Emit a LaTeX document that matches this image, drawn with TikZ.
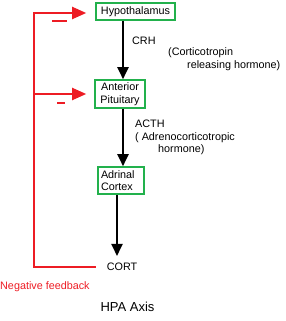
\documentclass[tikz,border=0pt]{standalone}
\usepackage{fontspec}
\setmainfont{Liberation Sans}
\usepackage{xcolor}
\usetikzlibrary{positioning,arrows.meta,calc}
\definecolor{paintgreen}{RGB}{34,177,76}
\definecolor{paintred}{RGB}{237,28,36}

\begin{document}
\begin{tikzpicture}[
  x=1pt, y=-1pt,
  font=\fontsize{10.8}{12.5}\selectfont,
  gland/.style={rectangle, draw=paintgreen, line width=1.6pt, inner sep=1pt},
  hormone/.style={draw=black, line width=2pt, -{Triangle[length=12pt,width=11pt]}},
  fbline/.style={draw=paintred, line width=2pt},
  fbarrow/.style={fbline, -{Triangle[length=14pt,width=12pt]}},
  label/.style={anchor=west, inner sep=0pt, align=left},
]
\useasboundingbox (0,0) rectangle (286,321);

% glands
\node[gland, minimum width=79pt, minimum height=17pt] (hyp) at (135.5,11.5) {Hypothalamus};
\node[gland, minimum width=50pt, minimum height=28pt, align=center] (pit) at (120,94) {Anterior\\Pituitary};
\node[gland, minimum width=46pt, minimum height=27pt, text width=40pt, align=left] (adr) at (121,180.5) {Adrinal\\Cortex};
\node[inner sep=0pt] (cort) at (122,267) {CORT};

% hormone cascade
\draw[hormone] ([xshift=-12.5pt]hyp.south) -- ([xshift=-12.5pt]hyp.south |- pit.north);
\draw[hormone] ([xshift=3pt]pit.south) -- ([xshift=3pt]pit.south |- adr.north);
\draw[hormone] ([xshift=-4pt]adr.south) -- ([xshift=-4pt,yshift=7pt]adr.south |- cort.north);

% hormone labels
\node[label] (crh) at (132,41) {CRH};
\node[label] (crhname) at (168,59) {(Corticotropin\\\hspace{19pt}releasing hormone)};
\node[label] (acth) at (135,137.5) {ACTH\\( Adrenocorticotropic\\\hspace{23pt}hormone)};

% negative feedback loop
\coordinate (fbtop) at (34,13);
\draw[fbarrow] ([xshift=-11pt]cort.west) -| (fbtop) -- ([xshift=-9pt]hyp.west |- fbtop);
\draw[fbarrow] (fbtop |- pit.west) -- ([xshift=-8pt]pit.west);
\draw[fbline] (52,21) -- (67,21);
\draw[fbline] (57,103) -- (65,103);
\node[label, text=paintred] (fbtext) at (0,287) {Negative feedback};

% title
\node[inner sep=0pt, font=\fontsize{13}{15}\selectfont] (title) at (127.5,307) {HPA Axis};
\end{tikzpicture}
\end{document}
